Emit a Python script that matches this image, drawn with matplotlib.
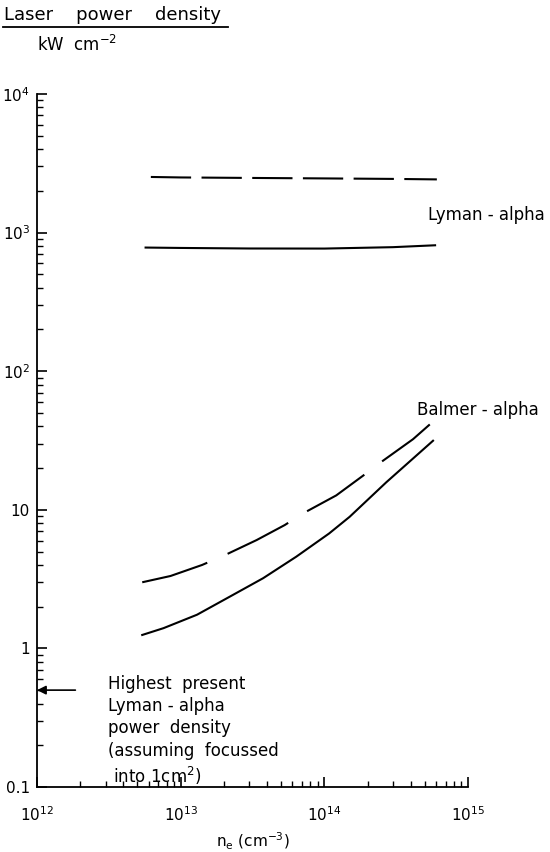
import matplotlib
matplotlib.use("Agg")
import matplotlib.pyplot as plt
from matplotlib.lines import Line2D

plt.rcParams['font.family'] = ['DejaVu Sans']
plt.rcParams['mathtext.default'] = 'regular'
plt.rcParams['lines.scale_dashes'] = False

# data
ne_lyman_dashed = [6.2e12, 1e13, 3e13, 1e14, 3e14, 6.07e14]
lyman_dashed = [2520, 2500, 2480, 2460, 2440, 2420]
ne_lyman_solid = [5.7e12, 1e13, 3e13, 1e14, 3e14, 5.9e14]
lyman_solid = [780, 775, 768, 767, 785, 810]

ne_balmer_solid = [5.4e12, 7.6e12, 1.3e13, 2.21e13, 3.75e13, 6.38e13, 1.08e14,
                   1.5e14, 2.7e14, 5.71e14]
balmer_solid = [1.25, 1.40, 1.75, 2.37, 3.21, 4.59, 6.75, 8.9, 15.8, 31.5]

ne_balmer_dashed = [5.4e12, 8.5e12, 1.41e13, 2.04e13, 3.38e13, 5.3e13, 7.08e13,
                    1.21e14, 2.01e14, 2.56e14, 4.14e14, 5.42e14]
balmer_dashed = [3.0, 3.33, 4.0, 4.72, 6.05, 7.76, 9.4, 12.7, 18.7, 22.6, 32.3, 41.3]

yticks = [0.1, 1, 10, 1e2, 1e3, 1e4]
ytick_labels = ['0.1', '1', '10', '$10^2$', '$10^3$', '$10^4$']
xticks = [1e12, 1e13, 1e14, 1e15]
xtick_labels = ['$10^{12}$', '$10^{13}$', '$10^{14}$', '$10^{15}$']

W, H = 550, 852
fig = plt.figure(figsize=(W/100, H/100), dpi=100)
ax = fig.add_axes([37/W, 1-787/H, (468-37)/W, (787-94)/H])

ax.loglog(ne_lyman_dashed, lyman_dashed, color='black', lw=1.5, dashes=(29, 7.5))
ax.loglog(ne_lyman_solid, lyman_solid, color='black', lw=1.5)
ax.loglog(ne_balmer_dashed, balmer_dashed, color='black', lw=1.5, dashes=(49, 16))
ax.loglog(ne_balmer_solid, balmer_solid, color='black', lw=1.5)

ax.set_xlim(1e12, 1e15)
ax.set_ylim(0.1, 1e4)
ax.set_xticks(xticks)
ax.set_xticklabels(xtick_labels, fontsize=11)
ax.set_yticks(yticks)
ax.set_yticklabels(ytick_labels, fontsize=11)
ax.spines['top'].set_visible(False)
ax.spines['right'].set_visible(False)
ax.spines['left'].set_linewidth(1.3)
ax.spines['bottom'].set_linewidth(1.3)
ax.tick_params(which='major', direction='in', length=7, width=1.2)
ax.tick_params(which='minor', direction='in', length=4, width=1.0)
ax.tick_params(axis='x', which='major', pad=13)
ax.tick_params(axis='y', which='major', pad=5)
ax.set_xlabel('$n_e$ (cm$^{-3}$)', fontsize=11, labelpad=5)

# arrow at the y-axis
ax.annotate('', xy=(1e12, 0.5), xytext=(1.85e12, 0.5),
            arrowprops=dict(arrowstyle='-|>', color='black', lw=1.2,
                            mutation_scale=13, shrinkA=0, shrinkB=0))
fig.text(108/W, 1-675/H, 'Highest  present\nLyman - alpha\npower  density\n(assuming  focussed\n into 1cm$^2$)',
         fontsize=12, va='top', ha='left', linespacing=1.3)

fig.text(486/W, 1-215/H, 'Lyman - alpha', fontsize=12, ha='center', va='center')
fig.text(478/W, 1-410/H, 'Balmer - alpha', fontsize=12, ha='center', va='center')

fig.text(4/W, 1-15/H, 'Laser    power    density', fontsize=13, ha='left', va='center')
fig.add_artist(Line2D([3/W, 228/W], [1-27/H, 1-27/H], color='black', lw=1.3,
                      transform=fig.transFigure))
fig.text(37/W, 1-45/H, 'kW  cm$^{-2}$', fontsize=12, ha='left', va='center')

fig.savefig('out.png', dpi=100)
